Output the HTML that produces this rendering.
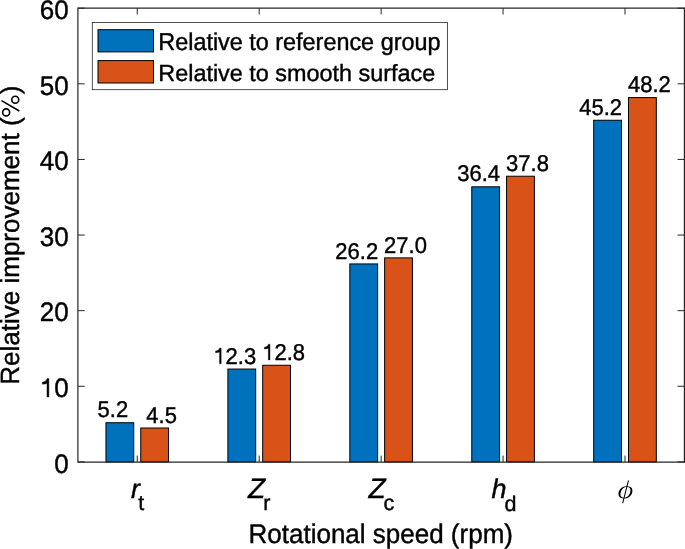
<!DOCTYPE html>
<html><head><meta charset="utf-8"><style>
html,body{margin:0;padding:0;background:#fff;width:685px;height:549px;overflow:hidden}
svg{display:block;will-change:transform}
text{font-family:"Liberation Sans",sans-serif;fill:#000;text-rendering:geometricPrecision;stroke:#000;stroke-width:0.4px}
.bl{font-size:22px}
.tk{font-size:26px}
.lab{font-size:26px}
.lg{font-size:23.4px}
.xm{font-size:28px;font-style:italic}
.xs{font-size:21.5px}
.xm2{font-size:27px;font-style:italic}
</style></head><body>
<svg width="685" height="549" viewBox="0 0 685 549">
<rect x="105.95" y="422.73" width="27.80" height="39.17" fill="#0072BD" stroke="#000" stroke-width="1"/>
<text transform="translate(112.85 417.38) scale(1.0 1.035)" class="bl" text-anchor="middle">5.2</text>
<rect x="140.75" y="428.02" width="27.80" height="33.88" fill="#D95319" stroke="#000" stroke-width="1"/>
<text transform="translate(161.65 422.67) scale(1.0 1.035)" class="bl" text-anchor="middle">4.5</text>
<rect x="227.89" y="369.04" width="27.80" height="92.86" fill="#0072BD" stroke="#000" stroke-width="1"/>
<text transform="translate(234.79 363.69) scale(1.0 1.035)" class="bl" text-anchor="middle"> 2.3</text>
<path transform="translate(213.38 363.69) scale(0.010742 -0.011118)" d="M575,0 L575,1050 Q470,985 206,985 L206,1134 Q480,1140 590,1409 L725,1409 L725,0 Z" fill="#000" stroke="#000" stroke-width="0.4" vector-effect="non-scaling-stroke"/>
<rect x="262.69" y="365.26" width="27.80" height="96.64" fill="#D95319" stroke="#000" stroke-width="1"/>
<text transform="translate(283.59 359.91) scale(1.0 1.035)" class="bl" text-anchor="middle"> 2.8</text>
<path transform="translate(262.18 359.91) scale(0.010742 -0.011118)" d="M575,0 L575,1050 Q470,985 206,985 L206,1134 Q480,1140 590,1409 L725,1409 L725,0 Z" fill="#000" stroke="#000" stroke-width="0.4" vector-effect="non-scaling-stroke"/>
<rect x="349.83" y="263.93" width="27.80" height="197.97" fill="#0072BD" stroke="#000" stroke-width="1"/>
<text transform="translate(356.73 258.58) scale(1.0 1.035)" class="bl" text-anchor="middle">26.2</text>
<rect x="384.63" y="257.88" width="27.80" height="204.01" fill="#D95319" stroke="#000" stroke-width="1"/>
<text transform="translate(405.53 252.54) scale(1.0 1.035)" class="bl" text-anchor="middle">27.0</text>
<rect x="471.77" y="186.81" width="27.80" height="275.09" fill="#0072BD" stroke="#000" stroke-width="1"/>
<text transform="translate(478.67 181.46) scale(1.0 1.035)" class="bl" text-anchor="middle">36.4</text>
<rect x="506.57" y="176.22" width="27.80" height="285.68" fill="#D95319" stroke="#000" stroke-width="1"/>
<text transform="translate(527.47 170.87) scale(1.0 1.035)" class="bl" text-anchor="middle">37.8</text>
<rect x="593.71" y="120.26" width="27.80" height="341.64" fill="#0072BD" stroke="#000" stroke-width="1"/>
<text transform="translate(600.61 114.91) scale(1.0 1.035)" class="bl" text-anchor="middle">45.2</text>
<rect x="628.51" y="97.58" width="27.80" height="364.32" fill="#D95319" stroke="#000" stroke-width="1"/>
<text transform="translate(649.41 92.23) scale(1.0 1.035)" class="bl" text-anchor="middle">48.2</text>
<path d="M77.9,462.1 L77.9,8.2 L684.4,8.2 L684.4,462.1 Z" fill="none" stroke="#262626" stroke-width="1.2"/>
<line x1="77.9" y1="461.90" x2="84.7" y2="461.90" stroke="#262626" stroke-width="1"/>
<line x1="684.4" y1="461.90" x2="677.6" y2="461.90" stroke="#262626" stroke-width="1"/>
<text transform="translate(68.60 472.65) scale(1.0 1.03)" class="tk" text-anchor="end">0</text>
<line x1="77.9" y1="386.28" x2="84.7" y2="386.28" stroke="#262626" stroke-width="1"/>
<line x1="684.4" y1="386.28" x2="677.6" y2="386.28" stroke="#262626" stroke-width="1"/>
<text transform="translate(68.60 397.03) scale(1.0 1.03)" class="tk" text-anchor="end"> 0</text>
<path transform="translate(39.68 397.03) scale(0.012695 -0.013076)" d="M575,0 L575,1050 Q470,985 206,985 L206,1134 Q480,1140 590,1409 L725,1409 L725,0 Z" fill="#000" stroke="#000" stroke-width="0.4" vector-effect="non-scaling-stroke"/>
<line x1="77.9" y1="310.67" x2="84.7" y2="310.67" stroke="#262626" stroke-width="1"/>
<line x1="684.4" y1="310.67" x2="677.6" y2="310.67" stroke="#262626" stroke-width="1"/>
<text transform="translate(68.60 321.42) scale(1.0 1.03)" class="tk" text-anchor="end">20</text>
<line x1="77.9" y1="235.05" x2="84.7" y2="235.05" stroke="#262626" stroke-width="1"/>
<line x1="684.4" y1="235.05" x2="677.6" y2="235.05" stroke="#262626" stroke-width="1"/>
<text transform="translate(68.60 245.80) scale(1.0 1.03)" class="tk" text-anchor="end">30</text>
<line x1="77.9" y1="159.43" x2="84.7" y2="159.43" stroke="#262626" stroke-width="1"/>
<line x1="684.4" y1="159.43" x2="677.6" y2="159.43" stroke="#262626" stroke-width="1"/>
<text transform="translate(68.60 170.18) scale(1.0 1.03)" class="tk" text-anchor="end">40</text>
<line x1="77.9" y1="83.82" x2="84.7" y2="83.82" stroke="#262626" stroke-width="1"/>
<line x1="684.4" y1="83.82" x2="677.6" y2="83.82" stroke="#262626" stroke-width="1"/>
<text transform="translate(68.60 94.57) scale(1.0 1.03)" class="tk" text-anchor="end">50</text>
<line x1="77.9" y1="8.20" x2="84.7" y2="8.20" stroke="#262626" stroke-width="1"/>
<line x1="684.4" y1="8.20" x2="677.6" y2="8.20" stroke="#262626" stroke-width="1"/>
<text transform="translate(68.60 18.95) scale(1.0 1.03)" class="tk" text-anchor="end">60</text>
<line x1="137.25" y1="462.1" x2="137.25" y2="455.59999999999997" stroke="#262626" stroke-width="1"/>
<line x1="137.25" y1="8.2" x2="137.25" y2="14.5" stroke="#262626" stroke-width="1"/>
<line x1="259.19" y1="462.1" x2="259.19" y2="455.59999999999997" stroke="#262626" stroke-width="1"/>
<line x1="259.19" y1="8.2" x2="259.19" y2="14.5" stroke="#262626" stroke-width="1"/>
<line x1="381.13" y1="462.1" x2="381.13" y2="455.59999999999997" stroke="#262626" stroke-width="1"/>
<line x1="381.13" y1="8.2" x2="381.13" y2="14.5" stroke="#262626" stroke-width="1"/>
<line x1="503.07" y1="462.1" x2="503.07" y2="455.59999999999997" stroke="#262626" stroke-width="1"/>
<line x1="503.07" y1="8.2" x2="503.07" y2="14.5" stroke="#262626" stroke-width="1"/>
<line x1="625.01" y1="462.1" x2="625.01" y2="455.59999999999997" stroke="#262626" stroke-width="1"/>
<line x1="625.01" y1="8.2" x2="625.01" y2="14.5" stroke="#262626" stroke-width="1"/>
<text transform="translate(130.90 497.90)" class="xm2">r</text>
<text transform="translate(138.20 510.30)" class="xs">t</text>
<text transform="translate(248.10 497.90)" class="xm">Z</text>
<text transform="translate(263.20 510.30)" class="xs">r</text>
<text transform="translate(368.50 497.90)" class="xm">Z</text>
<text transform="translate(383.60 510.30)" class="xs">c</text>
<text transform="translate(491.60 497.90)" class="xm2">h</text>
<text transform="translate(504.40 510.60)" class="xs">d</text>
<path transform="translate(617.5 498.2) skewX(-3) scale(0.014375 -0.0125)" fill-rule="evenodd" fill="#000" d="M338.4,-400 L406,-19 Q236,-15 141.5,93 Q47,201 47,372 Q47,531 113,666 Q179,801 297.5,880 Q416,959 579,964 L661,1421 L735,1421 L653,964 Q828,955 920,848.5 Q1012,742 1012,573 Q1012,414 945.5,278 Q879,142 761,63.5 Q643,-15 480,-19 L412.4,-400 Z M188,340 Q188,205 245,132 Q300,52 416.8,45 L569.4,905 Q455,895 375,815 Q290,735 245,610 Q188,483 188,340 Z M872,606 Q872,748 815,822 Q760,900 642.3,905 L490.8,45 Q605,55 690,138 Q775,220 820,340 Q872,463 872,606 Z"/>
<text transform="translate(248.50 543.20) scale(1.0 1.035)" class="lab">Rotational speed (rpm)</text>
<text transform="translate(19.30 384.70) rotate(-90) scale(1.0 1.015)" class="lab">Relative improvement (<tspan style="fill:none;stroke:none">%</tspan>)</text>
<g fill="none" stroke="#000" stroke-width="1.6"><circle cx="15.25" cy="99.7" r="3.5"/><circle cx="6.15" cy="112.4" r="3.5"/></g>
<line x1="1.5" y1="100.7" x2="19.4" y2="111.0" stroke="#000" stroke-width="1.45"/>
<rect x="92.3" y="22.4" width="355.2" height="67.3" fill="#fff" stroke="#262626" stroke-width="0.8"/>
<rect x="98.0" y="29.7" width="55.5" height="22.2" fill="#0072BD" stroke="#000" stroke-width="1"/>
<rect x="98.0" y="60.6" width="55.5" height="22.4" fill="#D95319" stroke="#000" stroke-width="1"/>
<text transform="translate(158.30 50.00) scale(1.0 1.04)" class="lg">Relative to reference group</text>
<text transform="translate(158.30 80.80)" class="lg">Relative to smooth surface</text>
</svg>
</body></html>
